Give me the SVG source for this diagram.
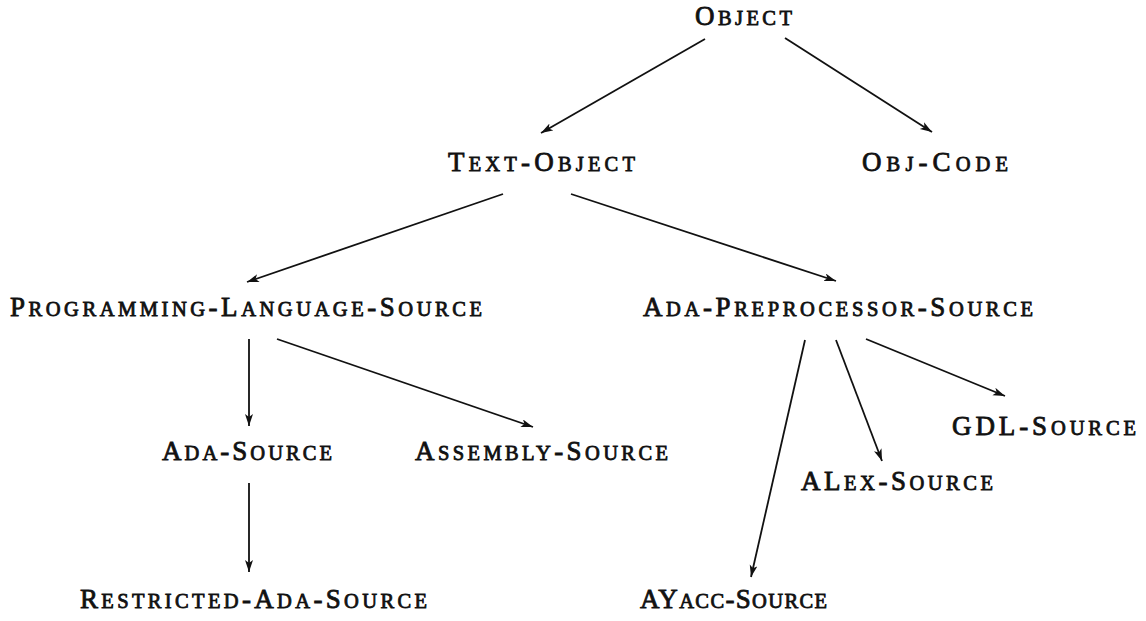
<svg xmlns="http://www.w3.org/2000/svg" width="1146" height="621" viewBox="0 0 1146 621">
  <style>
    .lbl { font-family: "Liberation Serif", "DejaVu Serif", serif; font-size: 27px; fill: #111; stroke: #111; stroke-width: 0.8px; }
    .sc { font-size: 20.5px; }
    .edge { stroke: #111; stroke-width: 1.8; fill: none; marker-end: url(#arrow); }
  </style>
  <defs>
    <marker id="arrow" markerUnits="userSpaceOnUse" markerWidth="14" markerHeight="10" refX="12" refY="4" orient="auto">
      <path d="M0,0 L12,4 L0,8 L3,4 z" fill="#111"/>
    </marker>
  </defs>
  <rect width="1146" height="621" fill="#fff"/>

  <g id="connectors">
    <line class="edge" x1="705" y1="39" x2="541" y2="133"/>
    <line class="edge" x1="785" y1="38" x2="932" y2="132"/>
    <line class="edge" x1="503" y1="194" x2="247" y2="282"/>
    <line class="edge" x1="571" y1="194" x2="836" y2="281"/>
    <line class="edge" x1="249" y1="339" x2="249" y2="426"/>
    <line class="edge" x1="277" y1="339" x2="533" y2="427"/>
    <line class="edge" x1="249" y1="483" x2="249" y2="572"/>
    <line class="edge" x1="805" y1="340" x2="751" y2="577"/>
    <line class="edge" x1="836" y1="340" x2="882" y2="461"/>
    <line class="edge" x1="866" y1="339" x2="1005" y2="396"/>
  </g>

  <g id="object">
    <text class="lbl" x="695" y="25" textLength="97" lengthAdjust="spacing">O<tspan class="sc">BJECT</tspan></text>
  </g>
  <g id="text-object">
    <text class="lbl" x="448" y="171" textLength="187" lengthAdjust="spacing">T<tspan class="sc">EXT</tspan>-O<tspan class="sc">BJECT</tspan></text>
  </g>
  <g id="obj-code">
    <text class="lbl" x="862" y="171" textLength="146" lengthAdjust="spacing">O<tspan class="sc">BJ</tspan>-C<tspan class="sc">ODE</tspan></text>
  </g>
  <g id="programming-language-source">
    <text class="lbl" x="10" y="316" textLength="472" lengthAdjust="spacing">P<tspan class="sc">ROGRAMMING</tspan>-L<tspan class="sc">ANGUAGE</tspan>-S<tspan class="sc">OURCE</tspan></text>
  </g>
  <g id="ada-preprocessor-source">
    <text class="lbl" x="643" y="316" textLength="390" lengthAdjust="spacing">A<tspan class="sc">DA</tspan>-P<tspan class="sc">REPROCESSOR</tspan>-S<tspan class="sc">OURCE</tspan></text>
  </g>
  <g id="ada-source">
    <text class="lbl" x="162" y="460" textLength="170" lengthAdjust="spacing">A<tspan class="sc">DA</tspan>-S<tspan class="sc">OURCE</tspan></text>
  </g>
  <g id="assembly-source">
    <text class="lbl" x="415" y="460" textLength="253" lengthAdjust="spacing">A<tspan class="sc">SSEMBLY</tspan>-S<tspan class="sc">OURCE</tspan></text>
  </g>
  <g id="gdl-source">
    <text class="lbl" x="952" y="435" textLength="184" lengthAdjust="spacing">GDL-S<tspan class="sc">OURCE</tspan></text>
  </g>
  <g id="alex-source">
    <text class="lbl" x="801" y="490" textLength="192" lengthAdjust="spacing">AL<tspan class="sc">EX</tspan>-S<tspan class="sc">OURCE</tspan></text>
  </g>
  <g id="restricted-ada-source">
    <text class="lbl" x="80" y="608" textLength="347" lengthAdjust="spacing">R<tspan class="sc">ESTRICTED</tspan>-A<tspan class="sc">DA</tspan>-S<tspan class="sc">OURCE</tspan></text>
  </g>
  <g id="ayacc-source">
    <text class="lbl" x="640" y="608" textLength="187" lengthAdjust="spacing">AY<tspan class="sc">ACC</tspan>-S<tspan class="sc">OURCE</tspan></text>
  </g>
</svg>
